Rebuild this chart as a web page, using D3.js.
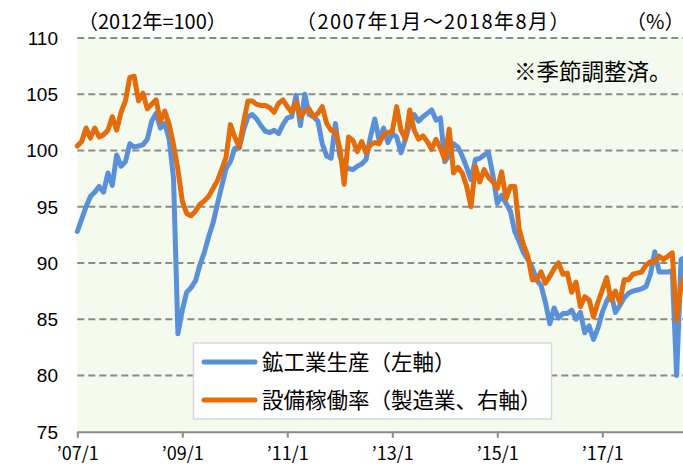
<!DOCTYPE html>
<html>
<head>
<meta charset="utf-8">
<script src="https://cdn.jsdelivr.net/npm/d3@7"></script>
<style>
  body { margin: 0; background: #fff; }
  text { font-family: "Noto Sans CJK JP", sans-serif; fill: #000; }
</style>
</head>
<body>
<script>
// monthly categories, 2007/1 - 2018/8
const months = d3.timeMonth.range(new Date(2007, 0, 1), new Date(2018, 8, 1));

// 鉱工業生産 (2012=100, left axis)
const production = [
  92.8, 93.9, 95.0, 95.9, 96.3, 96.8, 96.3, 98.0, 96.9, 99.6, 98.6, 99.0,
  100.6, 100.3, 100.4, 100.5, 101.0, 102.6, 103.3, 102.0, 102.4, 101.0, 97.5, 83.7,
  85.8, 87.4, 87.8, 88.4, 89.8, 90.9, 92.3, 93.5, 95.2, 96.8, 98.4, 99.0,
  100.2, 100.2, 101.8, 103.0, 103.2, 102.8, 102.2, 101.7, 101.6, 101.8, 101.5, 102.3,
  102.9, 103.0, 104.9, 102.2, 105.0, 103.2, 103.0, 102.6, 100.6, 99.5, 99.3, 102.4,
  99.5, 98.6, 98.4, 98.3, 98.6, 98.8, 99.2, 101.2, 102.8, 100.9, 102.0, 100.7,
  101.5, 101.2, 99.8, 101.0, 102.4, 103.2, 102.6, 103.0, 103.3, 103.6, 102.7, 102.9,
  99.0, 99.6, 100.6, 100.3, 99.5, 98.5, 97.4, 99.2, 99.3, 99.6, 99.8, 97.8,
  95.3, 96.0, 95.3, 94.6, 92.8, 91.9, 90.9, 90.3, 89.6, 88.5, 88.0, 86.5,
  84.6, 86.0, 85.1, 85.5, 85.5, 85.8, 85.0, 85.6, 83.8, 84.4, 83.2, 84.2,
  85.6, 86.6, 87.3, 85.6, 86.2, 86.9, 87.3, 87.5, 87.6, 87.7, 87.9, 89.0,
  91.0, 89.2, 89.2, 89.2, 89.3, 80.0, 90.3, 90.5
];

// 設備稼働率 (製造業, right axis)
const utilization = [
  100.4, 100.8, 102.0, 101.1, 102.0, 101.2, 101.4, 101.8, 103.0, 101.8, 103.4, 104.4,
  106.5, 106.6, 104.4, 105.1, 103.7, 104.1, 104.5, 102.6, 103.5, 102.3, 100.5, 98.3,
  95.5, 94.4, 94.2, 94.6, 95.2, 95.5, 95.9, 96.6, 97.3, 98.3, 99.4, 102.3,
  101.2, 100.3, 102.5, 104.4, 104.4, 104.1, 104.0, 104.0, 103.8, 103.4, 104.2, 104.5,
  103.9, 103.4, 104.3, 103.0, 103.5, 103.7, 103.0, 103.3, 103.9, 102.4, 101.8, 101.7,
  100.2, 97.0, 101.2, 100.9, 99.9, 100.8, 99.8, 100.5, 100.7, 100.6, 101.4, 101.6,
  101.7, 103.9, 101.8, 101.0, 103.6, 101.8, 101.0, 101.3, 100.8, 100.1, 101.0, 100.2,
  99.2, 101.9, 98.0, 98.5, 98.0, 96.8, 95.0, 98.6, 97.2, 98.3, 97.6, 97.2,
  96.6, 98.1, 95.7, 96.8, 96.8, 93.0, 91.6, 90.6, 88.5, 88.5, 89.2, 88.2,
  88.8, 89.5, 90.0, 89.0, 89.1, 87.4, 88.3, 86.1, 87.0, 86.7, 85.2, 86.5,
  87.6, 88.7, 86.7, 87.5, 86.5, 88.5, 88.5, 89.0, 89.1, 89.2, 89.8, 90.1,
  90.1, 90.6, 90.3, 90.6, 90.9, 84.9, 88.0, 89.0
];

const yTicks = [75, 80, 85, 90, 95, 100, 105, 110];
const xTickLabels = ["’07/1", "’09/1", "’11/1", "’13/1", "’15/1", "’17/1"];
const xTickDates = months.filter(d => d.getMonth() === 0 && d.getFullYear() % 2 === 1);

const width = 683, height = 467;
const plot = {left: 77.3, right: 683, top: 38, bottom: 431.7};

const svg = d3.select("body")
  .append("svg")
  .attr("width", width)
  .attr("height", height);

const x = d3.scalePoint()
  .domain(months)
  .range([plot.left, 685.4]);

const y = d3.scaleLinear()
  .domain([75, 110])
  .range([plot.bottom, plot.top]);

// plot background
svg.append("rect")
  .attr("x", plot.left)
  .attr("y", plot.top)
  .attr("width", plot.right - plot.left)
  .attr("height", plot.bottom - plot.top)
  .attr("fill", "#f5faef");

// dashed gridlines
svg.selectAll("line.grid")
  .data(yTicks.slice(1))
  .enter()
  .append("line")
  .attr("class", "grid")
  .attr("x1", plot.left)
  .attr("x2", plot.right)
  .attr("y1", d => y(d))
  .attr("y2", d => y(d))
  .attr("stroke", "#8a8a8a")
  .attr("stroke-width", 2)
  .attr("stroke-dasharray", "7,4");

// y labels
svg.selectAll("text.ylab")
  .data(yTicks)
  .enter()
  .append("text")
  .attr("class", "ylab")
  .attr("x", 58)
  .attr("y", d => y(d))
  .attr("dy", "0.36em")
  .attr("text-anchor", "end")
  .style("font-family", "'Liberation Sans', Arial, sans-serif")
  .style("font-size", "19px")
  .text(d => d);

// x axis
const xAxis = svg.append("g")
  .attr("transform", `translate(0,${plot.bottom})`)
  .call(d3.axisBottom(x)
    .tickValues(xTickDates)
    .tickFormat((d, i) => xTickLabels[i])
    .tickSize(6)
    .tickSizeOuter(0)
    .tickPadding(10));
xAxis.select(".domain").attr("stroke", "#8a8a8a").attr("stroke-width", 2);
xAxis.selectAll(".tick line").attr("stroke", "#8a8a8a").attr("stroke-width", 2);
xAxis.selectAll(".tick text")
  .style("font-family", "'Noto Sans CJK JP', sans-serif")
  .style("font-size", "18px")
  .attr("fill", "#000");

// series lines
const line = d3.line()
  .x((d, i) => x(months[i]))
  .y(d => y(d));

svg.append("path")
  .datum(production)
  .attr("d", line)
  .attr("fill", "none")
  .attr("stroke", "#5a90da")
  .attr("stroke-width", 5)
  .attr("stroke-linejoin", "round")
  .attr("stroke-linecap", "round");

svg.append("path")
  .datum(utilization)
  .attr("d", line)
  .attr("fill", "none")
  .attr("stroke", "#e46c0a")
  .attr("stroke-width", 5)
  .attr("stroke-linejoin", "round")
  .attr("stroke-linecap", "round");

// header texts
svg.append("text").attr("x", 78).attr("y", 29).style("font-size", "20px").text("（2012年=100）");
svg.append("text").attr("x", 296).attr("y", 29).style("font-size", "20px")
  .style("letter-spacing", "1.4px").text("（2007年1月～2018年8月）");
svg.append("text").attr("x", 626).attr("y", 29).style("font-size", "20px").text("（%）");
svg.append("text").attr("x", 514).attr("y", 80).style("font-size", "22.5px").text("※季節調整済。");

// legend
const legend = svg.append("g");
legend.append("rect")
  .attr("x", 193.5).attr("y", 343)
  .attr("width", 358).attr("height", 76)
  .attr("fill", "#fff")
  .attr("stroke", "#d9d9d9")
  .attr("stroke-width", 1.5);

const legendItems = [
  {label: "鉱工業生産（左軸）", color: "#5a90da", y: 362},
  {label: "設備稼働率（製造業、右軸）", color: "#e46c0a", y: 400}
];

legendItems.forEach(item => {
  legend.append("line")
    .attr("x1", 204).attr("x2", 255)
    .attr("y1", item.y).attr("y2", item.y)
    .attr("stroke", item.color)
    .attr("stroke-width", 5)
    .attr("stroke-linecap", "round");
  legend.append("text")
    .attr("x", 262).attr("y", item.y)
    .attr("dy", "0.36em")
    .style("font-size", "21.5px")
    .text(item.label);
});
</script>
</body>
</html>
